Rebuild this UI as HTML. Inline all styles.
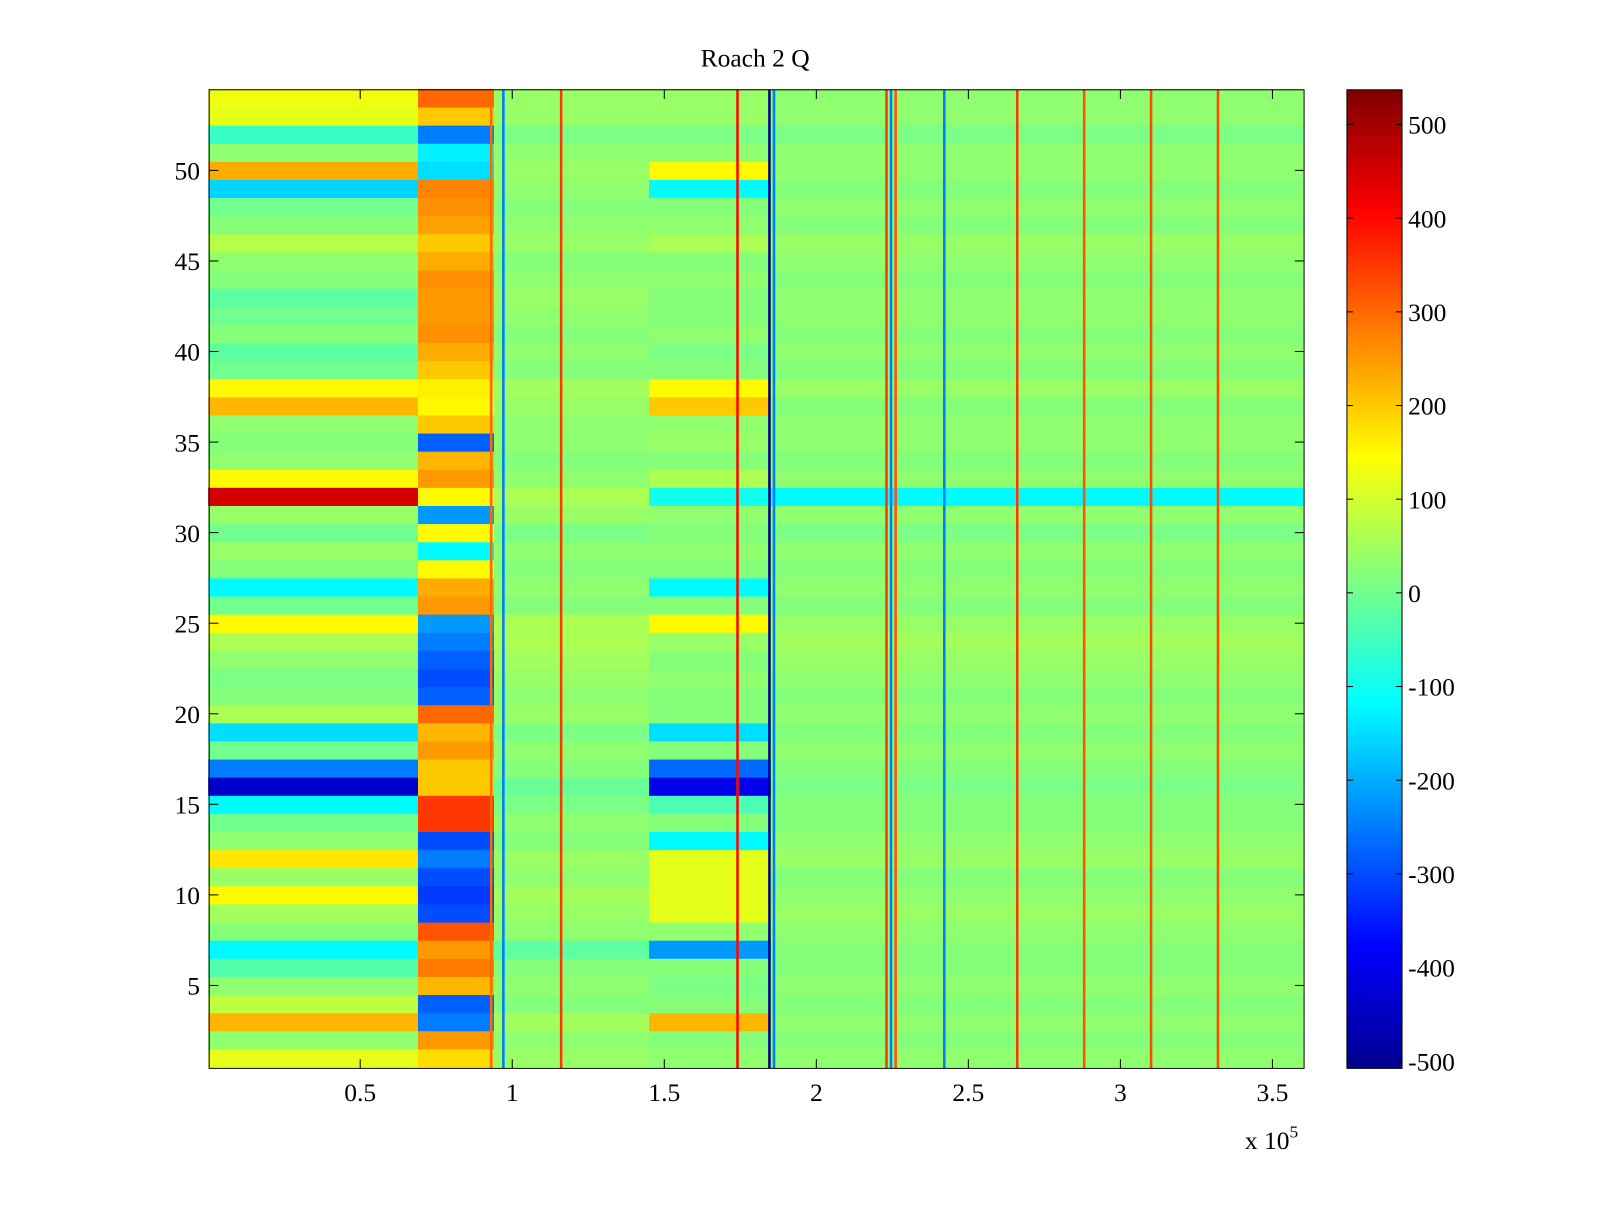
<!DOCTYPE html>
<html><head><meta charset="utf-8"><style>
body{margin:0;background:#fff;}
svg text{font-family:"Liberation Serif",serif;font-size:25px;fill:#000;}
</style></head><body>
<svg id="chart" width="1600" height="1200" xmlns="http://www.w3.org/2000/svg">
<defs><linearGradient id="jet" x1="0" y1="1" x2="0" y2="0">
<stop offset="0" stop-color="#00008f"/><stop offset="0.125" stop-color="#0000ff"/><stop offset="0.375" stop-color="#00ffff"/><stop offset="0.625" stop-color="#ffff00"/><stop offset="0.875" stop-color="#ff0000"/><stop offset="1" stop-color="#800000"/></linearGradient></defs>
<g transform="scale(1.0204)">
<g id="cells"></g>
<g id="lines"></g>
<rect x="205" y="88" width="1073" height="959" fill="none" stroke="#000" stroke-width="1"/>
<text x="740" y="65" text-anchor="middle">Roach 2 Q</text>
<g id="xt"></g>
<g id="yt"></g>
<text x="1220" y="1126">x 10<tspan dy="-11" font-size="17">5</tspan></text>
<rect x="1320" y="88" width="54" height="959" fill="url(#jet)" stroke="#000"/>
<g id="ct"></g>
</g>
</svg>
<script>
const xBreaks=[0,0.69,0.94,1.45,1.85,3.6];
const seg1=[120,30,220,80,30,-30,-120,20,50,150,40,170,30,0,-120,-430,-250,0,-150,60,20,10,30,60,150,0,-120,20,40,0,40,450,150,30,20,30,220,150,0,-20,20,0,-20,20,30,70,20,0,-160,230,30,-60,120,130];
const seg2=[180,250,-250,-280,220,280,250,320,-300,-320,-300,-250,-300,350,350,200,200,250,220,300,-280,-300,-280,-250,-220,250,230,150,-120,150,-220,150,250,220,-280,200,150,160,200,230,260,250,250,260,230,200,240,260,270,-150,-130,-250,200,300];
const seg3=[40,30,50,20,30,20,-20,30,40,50,30,40,20,30,10,-10,20,30,10,40,30,40,50,60,60,20,30,20,30,10,40,60,30,20,30,30,40,50,20,30,20,30,40,30,20,40,30,20,30,40,30,10,40,40];
const seg4=[30,20,220,20,10,20,-220,30,120,120,120,120,-120,20,-40,-400,-270,20,-150,20,20,30,20,40,150,20,-120,20,30,20,30,-100,60,20,40,30,200,150,20,10,30,20,20,30,20,60,30,20,-120,150,30,10,40,40];
const seg5=[30,20,30,20,30,20,20,30,40,30,20,40,30,20,20,10,20,30,20,30,20,30,40,50,40,20,30,20,30,10,30,-120,30,20,30,30,20,40,20,30,20,30,30,20,30,40,20,30,20,30,30,10,30,30];
const segs=[seg1,seg2,seg3,seg4,seg5];
const lineX=[0.93,0.97,1.16,1.74,1.845,1.86,2.23,2.245,2.26,2.42,2.66,2.88,3.10,3.32];
const lineV=[300,-250,350,400,-520,-250,350,-250,320,-250,350,320,330,330];
const yTicks=[5,10,15,20,25,30,35,40,45,50];
const xTicks=[0.5,1,1.5,2,2.5,3,3.5];
const cTicks=[500,400,300,200,100,0,-100,-200,-300,-400,-500];
const CMIN=-508,CMAX=537;
const X=v=>204+v*298, Y=v=>877-(v-10)*17.75;
const CY=v=>1040-(v+500)*0.918;
function jet(v){let t=(v-CMIN)/(CMAX-CMIN);t=Math.max(0,Math.min(1,t));
 const f=x=>Math.max(0,Math.min(1,x));
 const r=f(Math.min(4*t-1.5,-4*t+4.5)),g=f(Math.min(4*t-0.5,-4*t+3.5)),b=f(Math.min(4*t+0.5,-4*t+2.5));
 return `rgb(${Math.round(r*255)},${Math.round(g*255)},${Math.round(b*255)})`;}
const NS='http://www.w3.org/2000/svg';
function mk(tag,attrs,parent){const e=document.createElementNS(NS,tag);for(const k in attrs)e.setAttribute(k,attrs[k]);parent.appendChild(e);return e;}
const cells=document.getElementById('cells');
for(let s=0;s<segs.length;s++){for(let r=0;r<54;r++){
 const e=mk('rect',{x:X(xBreaks[s]),y:Y(r+1.5),width:X(xBreaks[s+1])-X(xBreaks[s])+0.5,height:18.25,fill:jet(segs[s][r])},cells);
 
 }}
const lines=document.getElementById('lines');
lineX.forEach((x,i)=>{const e=mk('rect',{x:X(x)-1,y:88,width:2.5,height:959,fill:jet(lineV[i])},lines);
 
 });
const xt=document.getElementById('xt');
xTicks.forEach(v=>{mk('line',{x1:X(v),x2:X(v),y1:1047,y2:1038,stroke:'#000'},xt);mk('line',{x1:X(v),x2:X(v),y1:88,y2:97,stroke:'#000'},xt);
 const t=mk('text',{x:X(v),y:1079,'text-anchor':'middle'},xt);t.textContent=v;
 
 });
const yt=document.getElementById('yt');
yTicks.forEach(v=>{mk('line',{x1:205,x2:214,y1:Y(v),y2:Y(v),stroke:'#000'},yt);mk('line',{x1:1278,x2:1269,y1:Y(v),y2:Y(v),stroke:'#000'},yt);
 const t=mk('text',{x:196,y:Y(v)+9,'text-anchor':'end'},yt);t.textContent=v;
 
 });
const ct=document.getElementById('ct');
cTicks.forEach(v=>{mk('line',{x1:1320,x2:1326,y1:CY(v),y2:CY(v),stroke:'#000'},ct);mk('line',{x1:1374,x2:1368,y1:CY(v),y2:CY(v),stroke:'#000'},ct);
 const t=mk('text',{x:1380,y:CY(v)+9},ct);t.textContent=v;
 
 });
</script>
</body></html>
